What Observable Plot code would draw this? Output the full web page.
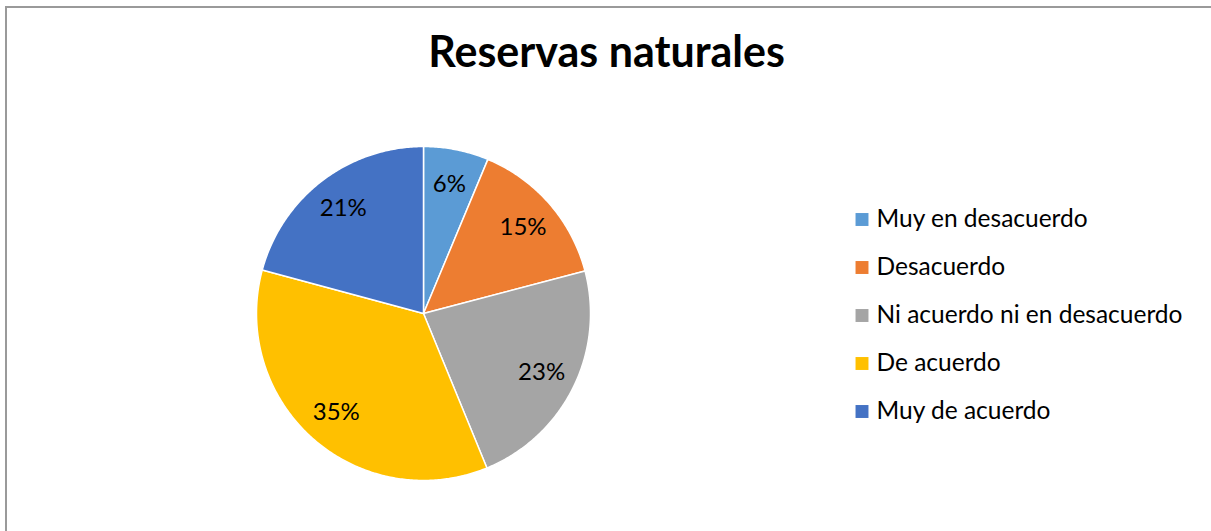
<!DOCTYPE html>
<html>
<head>
<meta charset="utf-8">
<script src="https://cdn.jsdelivr.net/npm/d3@7"></script>
<script src="https://cdn.jsdelivr.net/npm/@observablehq/plot@0.6"></script>
<style>
  html, body { margin: 0; padding: 0; background: #fff; }
  body { width: 1211px; height: 531px; position: relative; overflow: hidden; font-family: Lato, "Open Sans", sans-serif; }
  #frame { position: absolute; left: 5px; top: 6px; width: 1300px; height: 600px; border-left: 2px solid #9a9a9a; border-top: 2px solid #9a9a9a; box-sizing: border-box; }
  #title { position: absolute; left: 1px; top: 29px; width: 1211px; text-align: center; font-size: 43px; line-height: 43px; font-weight: 700; color: #000; }
  .layer { position: absolute; left: 0; top: 0; }
</style>
</head>
<body>
<div id="frame"></div>
<div id="title">Reservas naturales</div>
<div id="pie" class="layer"></div>
<div id="legend" class="layer" style="left:840px"></div>
<script>
// ---- data ----
const categories = ["Muy en desacuerdo", "Desacuerdo", "Ni acuerdo ni en desacuerdo", "De acuerdo", "Muy de acuerdo"];
const values = [6.3, 14.6, 22.9, 35.4, 20.8];
const labels = ["6%", "15%", "23%", "35%", "21%"];
const colors = ["#5B9BD5", "#ED7D31", "#A5A5A5", "#FFC000", "#4472C4"];

// ---- pie geometry (angles from d3.pie, clockwise from 12 o'clock) ----
const arcs = d3.pie().sort(null).value(d => d)(values);
function slicePolygon(a0, a1) {
  const pts = [[0, 0]];
  const n = Math.max(2, Math.ceil((a1 - a0) / 0.01));
  for (let i = 0; i <= n; i++) {
    const a = a0 + (a1 - a0) * i / n;
    pts.push([Math.sin(a), Math.cos(a)]);
  }
  pts.push([0, 0]);
  return pts;
}
const slices = arcs.map((a, i) => ({
  type: "Feature",
  properties: {category: categories[i], color: colors[i], label: labels[i]},
  geometry: {type: "Polygon", coordinates: [slicePolygon(a.startAngle, a.endAngle)]}
}));
const labelPos = arcs.map((a, i) => {
  const m = (a.startAngle + a.endAngle) / 2;
  return {x: 0.79 * Math.sin(m), y: 0.79 * Math.cos(m), label: labels[i]};
});

const pie = Plot.plot({
  width: 1211,
  height: 531,
  marginLeft: 256,
  marginRight: 621,
  marginTop: 146,
  marginBottom: 51,
  projection: {type: "reflect-y", domain: {type: "MultiPoint", coordinates: [[-1, -1], [1, 1]]}},
  marks: [
    Plot.geo(slices, {fill: d => d.properties.color, stroke: "white", strokeWidth: 1.5}),
    Plot.text(labelPos, {x: "x", y: "y", text: "label", fontSize: 24, fill: "#000", fontFamily: "Lato"})
  ]
});
pie.style.background = "transparent";
document.getElementById("pie").appendChild(pie);

const legend = Plot.plot({
  width: 371,
  height: 531,
  marginLeft: 0, marginRight: 0, marginTop: 0, marginBottom: 0,
  y: {type: "point", domain: categories, range: [219, 411], padding: 0, axis: null},
  marks: [
    Plot.dot(categories, {y: d => d, frameAnchor: "left", dx: 21.5, symbol: "square", r: 7.3, fill: (d, i) => colors[i], stroke: null}),
    Plot.text(categories, {y: d => d, text: d => d, frameAnchor: "left", dx: 36, textAnchor: "start", fontSize: 24.5, fill: "#000", fontFamily: "Lato"})
  ]
});
legend.style.background = "transparent";
document.getElementById("legend").appendChild(legend);
</script>
</body>
</html>
